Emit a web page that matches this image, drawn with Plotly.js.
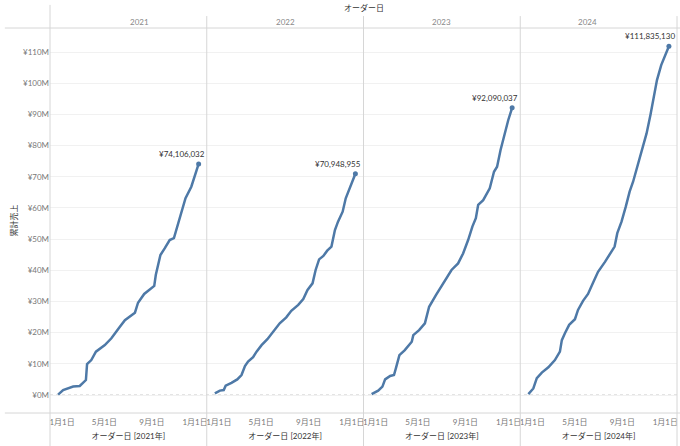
<!DOCTYPE html>
<html>
<head>
<meta charset="utf-8">
<script src="https://cdn.plot.ly/plotly-3.0.1.min.js"></script>
<style>
  body { margin: 0; background: #fff; }
  #chart { width: 680px; height: 446px; }
</style>
</head>
<body>
<div id="chart"></div>
<script>
// 累計売上 (単位: 百万円)
const years = [2021, 2022, 2023, 2024];

const dates2021 = ["01-01","01-14","02-09","02-26","03-14","03-17","03-28","04-09","05-02","05-19",
  "06-10","06-23","07-19","07-27","08-12","09-07","09-11","09-23","10-04","10-17",
  "10-28","11-08","11-19","11-27","12-12","12-21","12-31"];
const sales2021 = [0.1, 1.6, 2.7, 2.9, 4.8, 9.9, 11.2, 13.9, 16.0, 18.2,
  21.9, 24.0, 26.4, 29.6, 32.4, 35.0, 38.5, 44.9, 47.0, 49.7,
  50.3, 55.1, 60.4, 63.1, 66.8, 70.0, 74.106032];

const dates2022 = ["01-01","01-14","01-24","01-29","02-13","02-28","03-11","03-20","03-28","04-10",
  "04-19","05-02","05-17","06-01","06-18","07-05","07-18","08-05","08-18","08-29",
  "09-11","09-19","09-28","10-09","10-19","10-30","11-08","11-16","11-28","12-06",
  "12-16","12-31"];
const sales2022 = [0.5, 1.4, 1.6, 3.0, 3.9, 5.0, 6.4, 9.3, 10.7, 12.1,
  13.9, 16.0, 17.9, 20.3, 23.0, 24.9, 27.0, 28.9, 30.8, 33.7,
  35.8, 40.1, 43.5, 44.6, 46.3, 47.6, 52.9, 55.6, 58.8, 63.1,
  66.3, 70.948955];

const dates2023 = ["01-01","01-18","01-29","02-05","02-18","02-28","03-05","03-14","03-28","04-15",
  "04-19","05-04","05-19","05-30","06-17","06-27","07-14","07-27","08-13","08-26",
  "09-08","09-19","09-28","10-04","10-17","10-24","11-03","11-14","11-22","12-01",
  "12-12","12-21","12-31"];
const sales2023 = [0.3, 1.4, 2.7, 5.0, 6.1, 6.4, 8.6, 12.8, 14.4, 17.1,
  19.2, 20.8, 23.0, 28.3, 32.1, 34.2, 37.4, 40.1, 42.2, 45.4,
  49.7, 54.0, 56.7, 61.0, 62.5, 64.1, 66.3, 71.6, 73.2, 78.6,
  84.4, 88.2, 92.090037];

const dates2024 = ["01-01","01-14","01-23","02-05","02-22","03-10","03-23","03-28","04-05","04-16",
  "05-01","05-09","05-22","06-04","06-17","06-30","07-18","07-30","08-12","08-19",
  "08-30","09-10","09-20","09-29","10-08","10-16","10-25","11-03","11-13","11-21",
  "11-30","12-11","12-20","12-31"];
const sales2024 = [0.3, 2.1, 5.4, 7.2, 8.9, 11.2, 13.9, 17.6, 19.8, 22.5,
  24.3, 27.3, 30.2, 32.4, 36.0, 39.5, 42.7, 45.2, 47.6, 51.9,
  55.6, 60.4, 65.2, 68.4, 72.2, 75.9, 80.2, 83.9, 89.8, 94.6,
  101.0, 105.8, 108.3, 111.83513];

const midTickDays = ["05-01", "09-01"];
const midTickLabels = ["5月1日", "9月1日"];
const yearStartLabel = "1月1日";

const allDates = [dates2021, dates2022, dates2023, dates2024];
const allSales = [sales2021, sales2022, sales2023, sales2024];

const FONT = "Lato, 'Noto Sans CJK JP', sans-serif";
const BLUE = "#4e79a7";
const RULE = "#d6d6d6";

const traces = [];
const annotations = [];
const shapes = [];
const layout = {
  width: 680,
  height: 446,
  margin: { l: 50, r: 3, t: 28, b: 33 },
  paper_bgcolor: "#fff",
  plot_bgcolor: "#fff",
  showlegend: false,
  font: { family: FONT, size: 8, color: "#777" },
  yaxis: {
    range: [-5.77, 117.7],
    tick0: 0,
    dtick: 10,
    tickprefix: "¥",
    ticksuffix: "M",
    ticks: "",
    showline: false,
    zeroline: false,
    gridcolor: "#f1f1f1",
    tickfont: { size: 8, color: "#777" },
    title: { text: "累計売上", font: { size: 8, color: "#333" }, standoff: 4 },
    fixedrange: true
  }
};

function dateAxis(yr, extra) {
  return Object.assign({
    anchor: "y",
    type: "date",
    range: [(yr - 1) + "-12-11", (yr + 1) + "-01-21"],
    ticks: "",
    showgrid: false,
    zeroline: false,
    showline: false,
    ticklabelstandoff: 3,
    ticklabeloverflow: "allow",
    tickfont: { size: 8, color: "#777" },
    fixedrange: true
  }, extra);
}

years.forEach((yr, i) => {
  const n = i + 1;
  const xName = n === 1 ? "x" : "x" + n;
  const axisKey = n === 1 ? "xaxis" : "xaxis" + n;
  const x = allDates[i].map(d => yr + "-" + d);
  const y = allSales[i];

  traces.push({
    x: x, y: y, xaxis: xName, yaxis: "y",
    type: "scatter", mode: "lines",
    line: { color: BLUE, width: 2.5 },
    hoverinfo: "skip"
  });

  // end point marker + label
  const lastX = x[x.length - 1];
  const lastY = y[y.length - 1];
  traces.push({
    x: [lastX], y: [lastY], xaxis: xName, yaxis: "y",
    type: "scatter", mode: "markers",
    marker: { color: BLUE, size: 5 },
    hoverinfo: "skip"
  });
  annotations.push({
    x: lastX, y: lastY, xref: xName, yref: "y",
    text: "¥" + Math.round(lastY * 1e6).toLocaleString("en-US"),
    showarrow: false, xanchor: "right", yanchor: "bottom",
    xshift: 8, yshift: 3,
    font: { size: 8, color: "#333" }
  });

  // main axis: middle ticks + title
  layout[axisKey] = dateAxis(yr, {
    domain: [i * 0.25, (i + 1) * 0.25],
    tickvals: midTickDays.map(d => yr + "-" + d),
    ticktext: midTickLabels,
    title: { text: "オーダー日 [" + yr + "年]", font: { size: 8, color: "#333" }, standoff: 7 }
  });

  // edge ticks (Jan 1 at both ends), nudged inside the panel like the reference
  const edgeA = 5 + 2 * i, edgeB = 6 + 2 * i;
  layout["xaxis" + edgeA] = dateAxis(yr, {
    overlaying: xName,
    tickvals: [yr + "-01-01"],
    ticktext: [yearStartLabel],
    ticklabelshift: 4
  });
  layout["xaxis" + edgeB] = dateAxis(yr, {
    overlaying: xName,
    tickvals: [(yr + 1) + "-01-01"],
    ticktext: [yearStartLabel],
    ticklabelshift: -4
  });
  // empty traces so the overlay axes get drawn
  [edgeA, edgeB].forEach(k => traces.push({
    x: [yr + "-06-01"], y: [null], xaxis: "x" + k, yaxis: "y",
    type: "scatter", mode: "lines", hoverinfo: "skip"
  }));

  // column header (year)
  annotations.push({
    x: i * 0.25 + 0.125, y: 1.0156, xref: "paper", yref: "paper",
    text: String(yr), showarrow: false, yanchor: "middle",
    font: { size: 8, color: "#888" }
  });

  // panel divider
  shapes.push({
    type: "line", xref: "paper", yref: "paper",
    x0: (i + 1) * 0.25, x1: (i + 1) * 0.25, y0: -0.0857, y1: 1.031,
    line: { color: RULE, width: 1 }
  });
});

// top header
annotations.push({
  x: 0.5, y: 1.052, xref: "paper", yref: "paper",
  text: "オーダー日", showarrow: false, yanchor: "middle",
  font: { size: 8, color: "#333" }
});

// frame lines
shapes.push(
  { type: "line", xref: "paper", yref: "paper", x0: 0, x1: 0, y0: -0.0857, y1: 1.06,
    line: { color: RULE, width: 1 } },
  { type: "line", xref: "paper", yref: "paper", x0: -0.072, x1: 1.005, y0: 1, y1: 1,
    line: { color: RULE, width: 1 } },
  { type: "line", xref: "paper", yref: "paper", x0: -0.072, x1: 1.005, y0: 0, y1: 0,
    line: { color: RULE, width: 1 } },
  { type: "line", xref: "paper", yref: "y", x0: 0, x1: 1, y0: 0, y1: 0,
    line: { color: "#c8c8c8", width: 1, dash: "dot" }, layer: "below" }
);

layout.annotations = annotations;
layout.shapes = shapes;

Plotly.newPlot("chart", traces, layout, { displayModeBar: false, staticPlot: true });
</script>
</body>
</html>
